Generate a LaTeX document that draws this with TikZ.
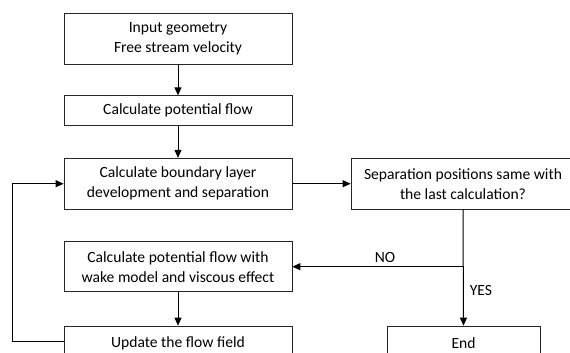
\documentclass[tikz,border=0pt]{standalone}
\usepackage{fontspec}
\setmainfont{Carlito}
\usetikzlibrary{arrows.meta,calc}
\begin{document}
\begin{tikzpicture}[x=1pt,y=-1pt,
  box/.style={draw=black!85,line width=0.7pt,align=center,inner sep=0pt,font=\fontsize{15.6}{20}\selectfont},
  arr/.style={-{Triangle[length=8pt,width=7pt]},line width=1pt},
  lbl/.style={font=\fontsize{15.6}{18}\selectfont}]
\useasboundingbox (0,0) rectangle (570,353);
\clip (0,0) rectangle (570,353);
\node[box,minimum width=228pt,minimum height=51pt] (a) at (178,38.5) {Input geometry\\Free stream velocity};
\node[box,minimum width=228pt,minimum height=30pt] (b) at (178,110.7) {Calculate potential flow};
\node[box,minimum width=228pt,minimum height=51pt] (c) at (178,183.7) {Calculate boundary layer\\development and separation};
\node[box,minimum width=228pt,minimum height=50pt] (w) at (178,266.7) {Calculate potential flow with\\wake model and viscous effect};
\node[box,minimum width=228pt,minimum height=34pt] (u) at (178,343) {Update the flow field};
\node[box,minimum width=224pt,minimum height=51pt] (s) at (463,183.7) {Separation positions same with\\the last calculation?};
\node[box,minimum width=153pt,minimum height=34pt] (e) at (463.5,343) {End};
\draw[arr] (a) -- (b);
\draw[arr] (b) -- (c);
\draw[arr] (c) -- (s);
\draw[arr] (w) -- (u);
\draw[arr] (s.south) -- (e.north);
\coordinate (j) at (s.south |- w.east);
\draw[arr] (j) -- (w.east);
\draw[arr] ($(u.west)+(0,-2)$) -- ++(-51.5,0) |- (c.west);
\node[lbl] (no) at (385,257) {NO};
\node[lbl] (yes) at (481,290) {YES};
\end{tikzpicture}
\end{document}
